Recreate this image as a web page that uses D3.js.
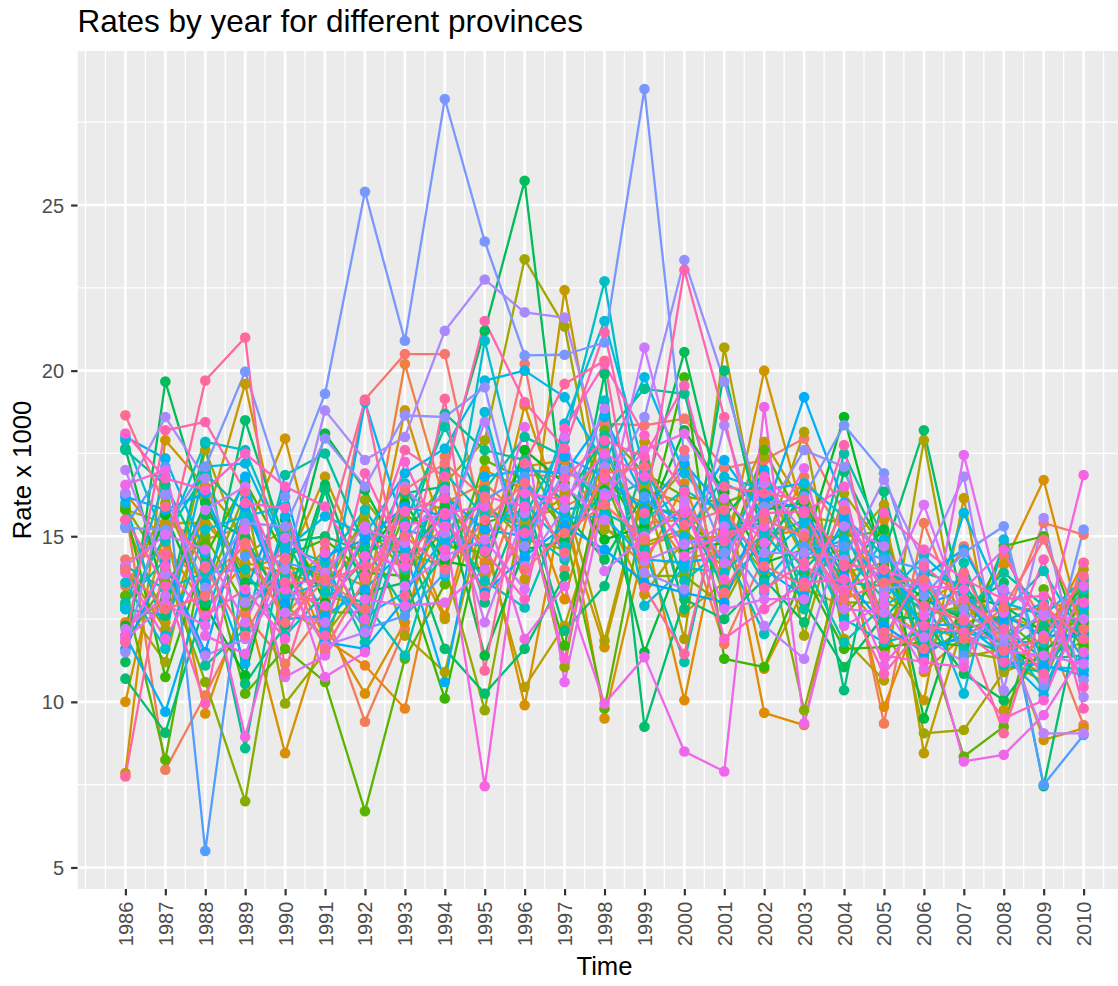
<!DOCTYPE html>
<html><head><meta charset="utf-8">
<script src="https://cdn.jsdelivr.net/npm/d3@7"></script>
<style>
body{margin:0;background:#fff}
svg{display:block}
text{font-family:"Liberation Sans",Arial,Helvetica,sans-serif}
</style>
</head><body>
<svg id="chart" width="1118" height="986"></svg>
<script>
const years = [1986,1987,1988,1989,1990,1991,1992,1993,1994,1995,1996,1997,1998,1999,2000,2001,2002,2003,2004,2005,2006,2007,2008,2009,2010];
const provinces = ["P01","P02","P03","P04","P05","P06","P07","P08","P09","P10","P11","P12","P13","P14","P15","P16","P17","P18","P19","P20","P21","P22","P23","P24","P25","P26","P27","P28","P29","P30","P31","P32","P33","P34","P35","P36","P37","P38","P39","P40","P41","P42","P43","P44","P45","P46","P47","P48","P49","P50"];
const yTicks = [5,10,15,20,25];

// rates per year, one value per province (same order as provinces)
const r1986 = [14.3,15.9,13.5,12.4,16.3,10.0,7.85,15.5,15.8,14.0, 12.9,13.2,15.9,11.8,13.2,15.8,12.3,17.65,11.2,10.7, 12.8,17.6,13.0,12.9,14.1,17.9,13.6,12.8,16.0,18.0, 12.0,16.2,11.6,15.3,15.25,11.5,16.3,17.0,12.2,14.1, 11.9,16.55,13.9,12.0,18.1,15.5,11.8,7.75,18.65,14.0];
const r1987 = [14.5,7.95,15.4,13.0,14.8,15.3,17.9,12.4,15.4,12.2, 11.2,16.0,14.0,13.6,8.25,10.75,15.65,13.1,19.67,9.07, 12.6,16.55,14.3,15.0,13.4,14.85,11.6,16.8,12.0,17.35, 9.7,15.8,14.2,17.1,15.2,16.25,18.6,13.85,13.2,15.05, 12.95,17.0,11.9,14.1,16.75,13.5,18.2,14.4,15.9,12.8];
const r1988 = [13.7,10.2,14.9,15.6,12.8,9.65,16.5,15.4,15.4,17.6, 16.15,13.3,10.6,15.0,14.8,14.4,12.9,16.0,15.65,13.0, 17.8,14.2,11.1,16.9,13.9,17.85,15.2,12.5,17.1,14.5, 13.6,16.3,11.5,5.5,17.1,13.45,16.75,11.4,15.8,14.6, 12.3,12.0,14.1,12.6,16.4,9.95,18.45,19.7,14.05,13.2];
const r1989 = [14.7,12.65,15.3,13.9,14.2,13.1,15.0,19.6,14.1,14.45, 13.8,16.3,7.0,12.9,10.25,16.65,10.8,13.6,14.95,18.5, 10.55,8.6,12.2,15.7,14.0,17.6,15.6,16.1,17.2,11.15, 16.8,13.3,15.9,14.4,19.97,15.4,13.0,11.9,16.5,12.4, 15.2,11.45,8.95,13.4,17.5,16.0,16.35,21.0,12.0,14.8];
const r1990 = [13.1,11.15,12.6,14.5,13.9,8.45,17.95,14.0,13.3,15.2, 12.9,9.95,14.1,13.7,11.6,14.4,15.5,13.5,12.8,14.8, 12.3,15.0,16.85,13.8,12.0,14.7,15.9,13.2,14.6,15.6, 12.5,16.4,13.0,14.2,16.2,15.3,14.0,13.6,12.7,14.95, 10.75,14.35,13.4,11.9,16.5,15.85,13.6,10.9,14.3,12.4];
const r1991 = [13.1,12.8,14.0,11.9,13.5,12.3,13.2,16.8,14.6,13.4, 12.0,11.5,13.8,12.7,10.6,14.9,13.0,18.1,16.55,15.0, 16.4,12.5,17.5,14.2,13.3,14.2,12.1,13.6,15.6,12.2, 12.6,11.8,14.4,13.9,19.3,17.95,18.8,11.7,12.4,13.9, 11.4,10.75,12.9,14.5,15.9,12.0,13.65,14.8,11.6,13.7];
const r1992 = [19.13,9.4,13.5,11.1,14.8,10.25,12.9,14.0,12.3,15.65, 13.6,16.1,15.4,12.7,6.7,13.9,14.3,16.4,13.3,14.5, 12.0,15.0,14.7,11.8,13.0,15.8,14.2,12.6,15.05,19.05, 13.4,11.6,14.9,12.2,25.4,16.5,17.3,12.1,15.2,15.3, 13.1,11.5,14.4,12.5,13.8,16.9,14.1,19.1,13.7,12.8];
const r1993 = [20.5,12.2,20.2,9.8,15.5,12.4,18.8,14.9,16.2,12.0, 15.1,14.5,13.9,15.7,11.3,13.8,16.0,14.2,13.6,15.0, 16.3,14.7,12.8,15.4,11.4,14.0,16.6,13.3,16.9,15.2, 14.6,13.1,15.9,12.6,20.9,18.65,18.0,16.5,14.8,13.5, 12.9,15.3,14.1,17.25,15.75,14.35,17.6,13.2,15.0,16.4];
const r1994 = [20.5,17.4,16.0,15.4,12.6,16.3,14.9,12.5,15.8,10.9, 16.6,14.1,15.2,14.7,13.55,10.1,14.25,15.9,17.0,11.6, 16.5,18.7,14.5,18.3,15.5,16.9,13.8,15.0,17.65,14.85, 10.6,16.2,15.6,13.9,28.2,18.6,21.2,15.1,16.4,14.4, 13.0,15.7,15.3,14.6,16.15,15.65,16.8,19.15,14.0,17.2];
const r1995 = [15.1,13.4,16.6,14.2,17.0,15.1,13.9,16.3,14.8,15.8, 17.9,9.75,16.0,14.5,17.3,15.4,14.0,11.4,21.2,10.25, 13.0,17.6,16.4,15.85,13.65,15.6,20.9,18.75,19.7,14.7, 16.8,15.2,13.3,16.1,23.9,19.5,22.75,18.45,12.4,14.9, 14.0,15.9,7.45,16.2,14.55,13.2,21.5,10.95,15.5,16.15];
const r1996 = [20.2,16.85,15.5,17.1,16.4,9.9,18.95,13.7,10.45,15.35, 23.36,16.1,14.9,17.6,16.7,15.8,17.6,14.6,25.73,11.6, 16.2,17.3,18.0,15.2,12.85,15.6,16.0,14.3,20.0,16.5, 17.0,15.0,14.4,16.8,20.46,14.7,21.76,14.1,15.7,13.4, 18.3,11.9,16.3,15.9,13.1,15.1,19.05,17.2,16.6,14.0];
const r1997 = [14.0,16.8,15.9,17.3,13.1,16.3,15.4,22.43,12.3,16.2, 21.33,11.05,14.6,15.0,15.2,11.7,16.6,14.85,15.7,13.8, 12.15,16.0,17.4,14.3,15.8,17.9,14.7,18.4,19.2,15.55, 16.9,17.4,15.3,14.4,20.48,17.0,21.6,15.85,16.5,18.0, 10.6,13.5,16.1,11.3,18.25,16.75,17.65,19.6,14.5,15.1];
const r1998 = [18.4,17.0,16.5,15.3,17.6,9.5,11.65,15.8,16.1,11.85, 15.2,17.3,16.7,18.2,9.8,17.0,14.9,16.4,14.3,19.9, 13.5,18.05,15.7,17.8,16.0,22.7,19.1,21.5,17.2,15.6, 18.6,16.8,14.6,17.4,20.85,16.3,17.1,18.85,15.5,13.95, 16.2,9.95,17.5,16.75,20.2,17.9,21.16,20.3,16.9,15.95];
const r1999 = [18.35,15.4,16.0,14.1,15.2,14.7,16.4,13.25,17.85,16.55, 14.8,15.6,13.8,16.9,15.9,14.95,15.3,11.5,16.3,9.25, 17.2,19.45,15.1,14.6,16.7,15.5,12.9,17.0,19.8,14.3, 16.1,15.8,13.6,16.2,28.5,18.6,13.9,14.25,20.7,15.0, 17.6,11.35,16.8,14.4,18.05,17.4,15.7,13.45,17.1,14.9];
const r2000 = [18.55,15.5,14.3,16.6,10.05,15.1,16.0,14.9,12.7,11.9, 15.2,17.05,13.8,16.2,15.65,19.8,18.2,14.6,20.56,13.1, 12.8,19.3,15.8,11.2,13.65,16.4,14.05,15.0,16.9,14.2, 15.4,17.2,13.3,14.8,17.4,23.34,13.4,14.75,16.1,15.9, 18.1,8.5,14.4,15.7,16.35,19.55,23.04,11.45,15.35,17.6];
const r2001 = [17.05,11.75,14.6,13.2,15.9,16.3,14.1,15.0,13.6,20.7, 14.05,15.4,12.9,16.0,14.25,11.3,16.35,14.8,15.6,12.5, 20.0,15.2,13.4,16.6,14.65,15.7,13.9,16.8,15.5,14.4, 17.3,15.8,13.0,14.9,14.5,19.67,18.35,15.3,14.2,12.8, 16.15,7.9,15.1,13.7,11.9,14.85,18.6,16.5,15.8,13.3];
const r2002 = [17.3,14.4,16.2,15.0,9.67,11.0,20.0,17.85,16.7,14.6, 17.4,13.9,15.2,16.5,17.6,11.05,14.2,15.8,16.9,13.7, 14.7,15.4,14.9,16.0,12.05,13.6,15.1,16.4,14.3,17.0, 15.6,14.0,16.15,13.3,15.9,15.6,14.5,12.3,16.6,13.1, 14.8,18.9,15.3,16.8,12.8,15.7,13.4,16.3,14.1,15.5];
const r2003 = [17.95,16.8,14.8,15.2,9.3,13.4,15.6,15.9,14.3,18.15, 12.0,16.5,9.75,14.9,15.3,13.9,14.6,16.0,13.0,12.4, 16.3,14.0,15.5,12.8,14.2,15.0,13.7,16.6,15.4,14.4, 19.2,13.2,15.8,14.7,16.2,17.6,14.5,11.3,15.1,13.1, 17.05,9.35,14.1,15.7,13.6,15.75,14.2,16.1,13.5,15.0];
const r2004 = [15.7,15.1,14.2,13.9,14.8,12.9,15.4,13.5,14.6,11.9, 16.3,13.0,14.4,15.0,12.6,11.6,18.6,14.0,11.05,16.95, 10.35,15.2,13.6,17.5,11.8,12.5,14.5,15.6,13.2,14.9, 16.0,15.5,13.8,14.7,18.35,17.1,14.3,15.3,12.8,15.95, 12.3,14.1,13.4,16.5,13.7,13.3,17.75,14.15,15.8,13.1];
const r2005 = [13.7,9.35,12.8,14.2,9.85,15.5,13.3,12.2,15.95,10.65, 14.6,13.0,12.4,15.15,13.9,11.65,14.1,15.2,12.6,14.5, 16.35,12.5,13.5,14.9,12.9,11.8,13.1,14.4,14.9,13.6, 12.0,13.8,12.3,14.3,16.9,13.4,16.7,14.7,12.7,13.2, 12.95,11.1,14.0,11.4,15.7,10.85,11.9,14.0,12.1,13.6];
const r2006 = [12.7,15.4,12.0,11.6,13.0,10.9,12.4,10.05,8.45,17.9, 9.05,12.6,13.4,11.4,12.2,11.8,13.1,9.5,12.5,18.2, 11.7,13.9,12.8,11.3,13.6,12.1,14.4,13.3,11.9,12.3, 13.8,12.9,11.5,14.0,13.2,13.6,14.2,12.7,11.95,15.95, 11.0,12.6,13.5,11.2,14.6,12.3,14.1,12.9,11.6,13.7];
const r2007 = [14.7,12.3,13.0,12.6,13.7,12.0,11.8,16.15,12.4,11.35, 9.15,12.9,11.5,12.2,8.35,11.7,12.5,13.2,10.85,12.8, 11.9,13.5,12.7,14.2,11.6,12.1,13.3,10.25,15.7,12.35, 14.6,13.4,12.0,11.4,14.5,12.8,16.8,13.1,11.2,12.55, 17.45,8.2,13.4,11.05,13.7,12.1,13.1,12.45,13.9,11.9];
const r2008 = [12.4,14.4,11.9,12.8,11.0,14.15,12.3,9.75,12.6,11.6, 10.9,12.1,11.3,12.5,9.25,14.7,11.7,12.9,10.05,13.6, 11.5,12.2,13.9,11.1,12.7,11.8,12.0,14.9,13.0,11.4, 12.4,11.2,12.6,13.3,15.3,11.75,10.35,12.0,13.4,11.55, 12.7,8.4,14.6,9.5,13.1,11.2,12.2,9.05,11.55,12.85];
const r2009 = [15.4,12.4,11.2,12.8,11.9,16.7,8.85,11.7,12.2,10.8, 11.4,12.5,10.6,11.5,13.4,15.0,11.0,12.1,11.6,7.45, 12.3,11.3,12.9,10.9,13.95,11.8,10.4,11.05,12.6,10.2, 13.0,11.1,12.0,7.5,10.5,12.7,15.55,9.05,12.6,11.4, 10.7,9.6,12.0,10.05,13.2,14.3,10.85,12.9,11.9,14.9];
const r2010 = [15.05,9.3,12.5,13.1,14.2,12.0,9.2,12.9,13.6,14.0, 11.8,12.3,13.3,12.7,11.6,11.7,12.4,13.5,12.1,13.2, 12.2,11.4,10.95,12.6,11.9,13.4,12.8,11.0,13.7,12.9, 11.3,10.8,12.0,9.0,15.2,10.65,10.15,9.05,12.5,11.15, 13.5,11.5,16.85,13.0,10.45,9.8,14.2,11.9,13.8,12.2];

const ratesByYear = [r1986,r1987,r1988,r1989,r1990,r1991,r1992,r1993,r1994,r1995,r1996,r1997,r1998,r1999,r2000,r2001,r2002,r2003,r2004,r2005,r2006,r2007,r2008,r2009,r2010];

// ggplot2-like hue palette (polar CIE-LUV, c=100, l=65)
function hclLuv(h, c, l) {
  const Xn = 95.047, Yn = 100, Zn = 108.883;
  const den = Xn + 15 * Yn + 3 * Zn;
  const un = 4 * Xn / den, vn = 9 * Yn / den;
  const hr = h * Math.PI / 180;
  const u = c * Math.cos(hr), v = c * Math.sin(hr);
  const Y = Yn * Math.pow((l + 16) / 116, 3);
  const up = u / (13 * l) + un, vp = v / (13 * l) + vn;
  const X = 9 * Y * up / (4 * vp);
  const Z = Y * (12 - 3 * up - 20 * vp) / (4 * vp);
  const x = X / 100, y = Y / 100, z = Z / 100;
  const lin = [
    3.240479 * x - 1.537150 * y - 0.498535 * z,
    -0.969256 * x + 1.875992 * y + 0.041556 * z,
    0.055648 * x - 0.204043 * y + 1.057311 * z
  ];
  const g = lin.map(t => {
    const s = t <= 0.0031308 ? 12.92 * t : 1.055 * Math.pow(t, 1 / 2.4) - 0.055;
    return Math.round(Math.max(0, Math.min(1, s)) * 255);
  });
  return d3.rgb(g[0], g[1], g[2]).formatHex();
}
const n = provinces.length;
const palette = provinces.map((p, i) => hclLuv(15 + 360 * i / n, 100, 65));
const color = d3.scaleOrdinal(provinces, palette);

const series = provinces.map((p, i) => ({
  name: p,
  values: years.map((yr, j) => ({ year: yr, rate: ratesByYear[j][i] }))
}));

const svg = d3.select("#chart");
const W = 1118, H = 986;
const panel = { left: 77.5, right: 1131.5, top: 51, bottom: 889 };

const xr = d3.extent(years);
const xPad = (xr[1] - xr[0]) * 0.05;
const x = d3.scaleLinear().domain([xr[0] - xPad, xr[1] + xPad]).range([panel.left, panel.right]);
const allRates = ratesByYear.flat();
const yr = d3.extent(allRates);
const yPad = (yr[1] - yr[0]) * 0.05;
const y = d3.scaleLinear().domain([yr[0] - yPad, yr[1] + yPad]).range([panel.bottom, panel.top]);

svg.append("rect").attr("width", W).attr("height", H).attr("fill", "#fff");

svg.append("defs").append("clipPath").attr("id", "clip")
  .append("rect").attr("x", panel.left).attr("y", panel.top)
  .attr("width", panel.right - panel.left).attr("height", panel.bottom - panel.top);

const g = svg.append("g").attr("clip-path", "url(#clip)");
g.append("rect").attr("x", panel.left).attr("y", panel.top)
  .attr("width", panel.right - panel.left).attr("height", panel.bottom - panel.top)
  .attr("fill", "#EBEBEB");

// minor grid
const xMinor = d3.range(Math.ceil(x.domain()[0] * 2) / 2, x.domain()[1], 0.5).filter(v => !years.includes(v));
const yMinor = yTicks.map(v => v + 2.5).filter(v => v < y.domain()[1]);
g.selectAll(".yminor").data(yMinor).join("line")
  .attr("x1", panel.left).attr("x2", panel.right)
  .attr("y1", d => y(d)).attr("y2", d => y(d))
  .attr("stroke", "#fff").attr("stroke-width", 1.3);
g.selectAll(".xminor").data(xMinor).join("line")
  .attr("y1", panel.top).attr("y2", panel.bottom)
  .attr("x1", d => x(d)).attr("x2", d => x(d))
  .attr("stroke", "#fff").attr("stroke-width", 1.3);
// major grid
g.selectAll(".ymajor").data(yTicks).join("line")
  .attr("x1", panel.left).attr("x2", panel.right)
  .attr("y1", d => y(d)).attr("y2", d => y(d))
  .attr("stroke", "#fff").attr("stroke-width", 2.6);
g.selectAll(".xmajor").data(years).join("line")
  .attr("y1", panel.top).attr("y2", panel.bottom)
  .attr("x1", d => x(d)).attr("x2", d => x(d))
  .attr("stroke", "#fff").attr("stroke-width", 2.6);

// lines
const line = d3.line().x(d => x(d.year)).y(d => y(d.rate));
g.selectAll(".series").data(series).join("path")
  .attr("d", d => line(d.values))
  .attr("fill", "none")
  .attr("stroke", d => color(d.name))
  .attr("stroke-width", 2.3)
  .attr("stroke-linejoin", "round");

// points
series.forEach(s => {
  g.append("g").selectAll("circle").data(s.values).join("circle")
    .attr("cx", d => x(d.year)).attr("cy", d => y(d.rate))
    .attr("r", 5.3).attr("fill", color(s.name));
});

// axes
const tickLen = 6.4;
const xAxis = svg.append("g").attr("transform", `translate(0,${panel.bottom})`)
  .call(d3.axisBottom(x).tickValues(years).tickFormat(d3.format("d")).tickSize(tickLen));
xAxis.select(".domain").remove();
xAxis.selectAll(".tick line").attr("stroke", "#333333").attr("stroke-width", 2.2);
xAxis.selectAll(".tick text")
  .attr("transform", "rotate(-90)")
  .attr("x", -(tickLen + 6.3)).attr("y", 0).attr("dy", "0.35em")
  .style("text-anchor", "end")
  .attr("fill", "#4D4D4D").style("font-size", "20px")
  .style("font-family", '"Liberation Sans", Arial, sans-serif');

const yAxis = svg.append("g").attr("transform", `translate(${panel.left},0)`)
  .call(d3.axisLeft(y).tickValues(yTicks).tickSize(tickLen));
yAxis.select(".domain").remove();
yAxis.selectAll(".tick line").attr("stroke", "#333333").attr("stroke-width", 2.2);
yAxis.selectAll(".tick text")
  .attr("x", -(tickLen + 7)).attr("dy", "0.35em")
  .attr("fill", "#4D4D4D").style("font-size", "20px")
  .style("font-family", '"Liberation Sans", Arial, sans-serif');

// titles
svg.append("text").attr("x", 77.5).attr("y", 31.5)
  .style("font-size", "31.5px").attr("fill", "#000")
  .text("Rates by year for different provinces");
svg.append("text").attr("x", (panel.left + panel.right) / 2).attr("y", 975)
  .attr("text-anchor", "middle").style("font-size", "25.7px").attr("fill", "#000")
  .text("Time");
svg.append("text")
  .attr("transform", `translate(31,${(panel.top + panel.bottom) / 2}) rotate(-90)`)
  .attr("text-anchor", "middle").style("font-size", "25.7px").attr("fill", "#000")
  .text("Rate x 1000");
</script>
</body></html>
